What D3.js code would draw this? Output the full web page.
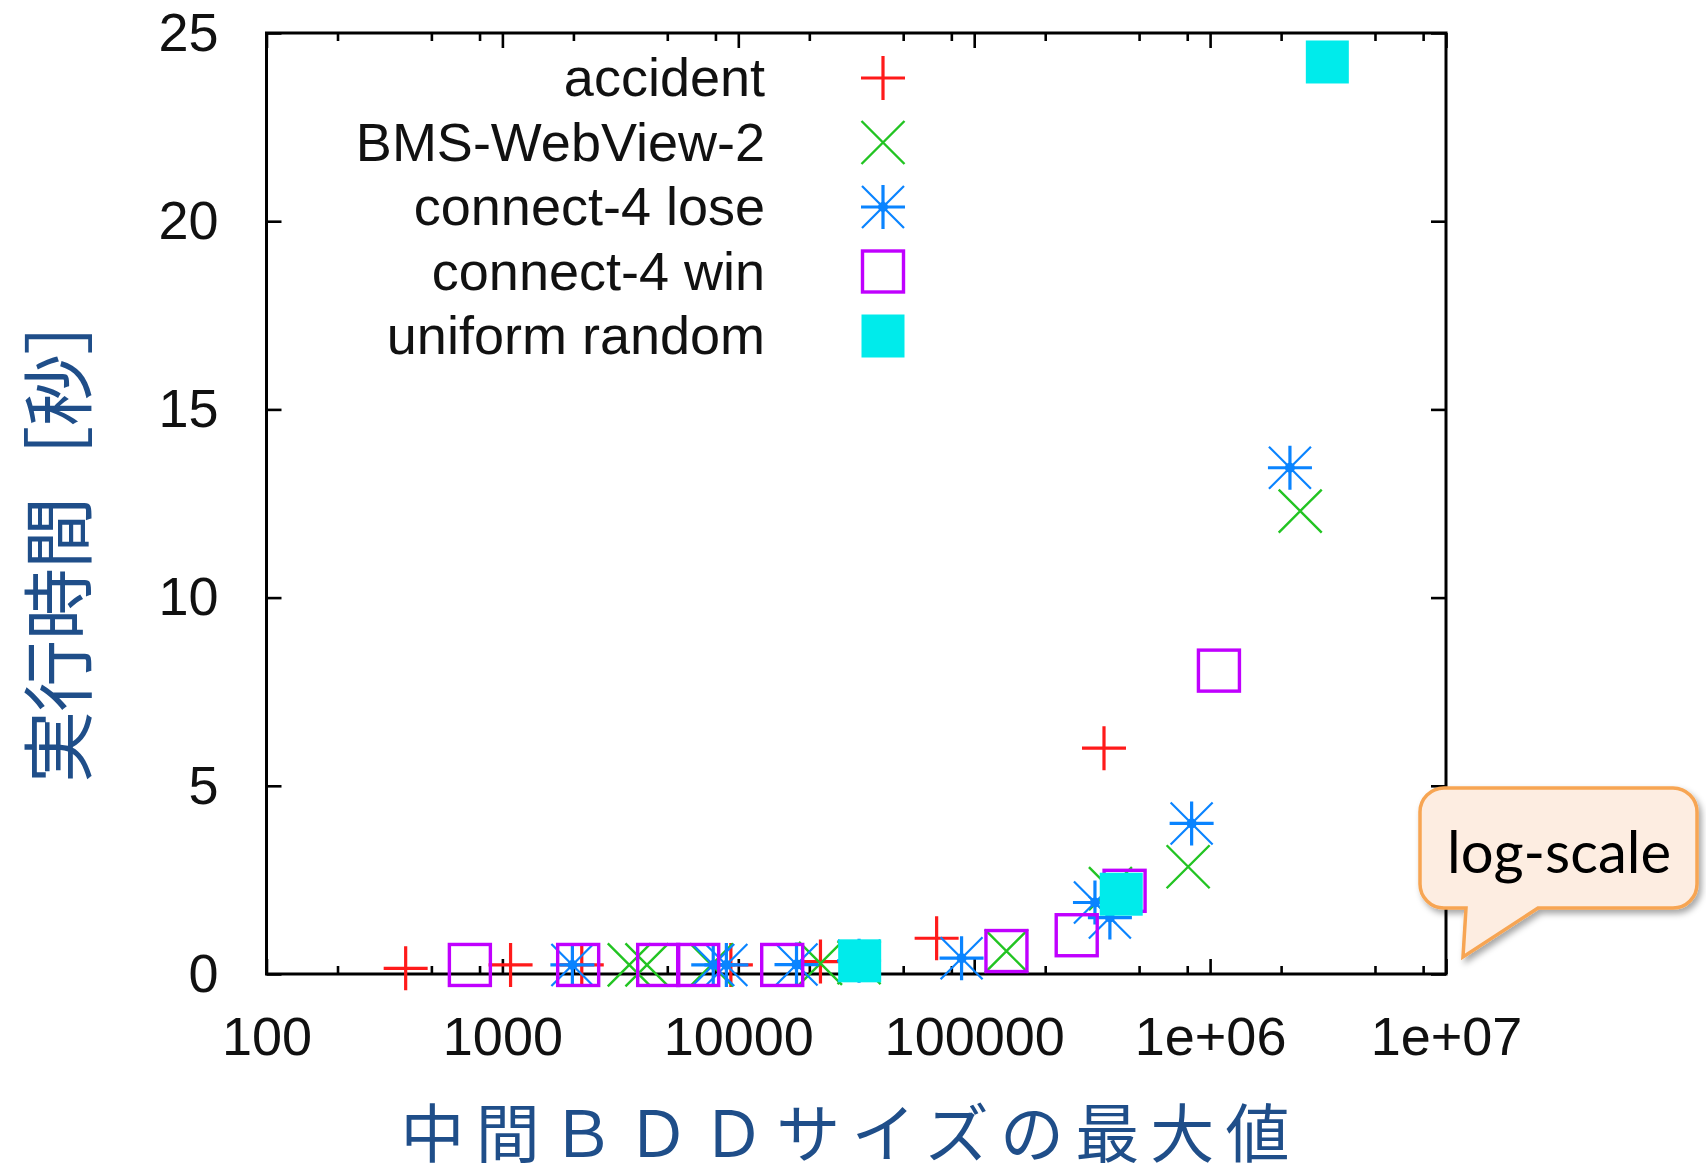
<!DOCTYPE html>
<html>
<head>
<meta charset="utf-8">
<script src="https://cdn.jsdelivr.net/npm/d3@7"></script>
<style>
  html, body { margin: 0; padding: 0; background: #fff; }
  svg { display: block; }
</style>
</head>
<body>
<svg id="chart" width="1706" height="1176"></svg>
<script>
// Runtime (seconds) versus the largest intermediate BDD size, per dataset.
const seriesNames = ["accident", "BMS-WebView-2", "connect-4 lose", "connect-4 win", "uniform random"];

const accidentSize = [389, 1083, 2170, 9300, 22300, 69300, 355000];
const accidentSec  = [0.15, 0.24, 0.24, 0.24, 0.33, 0.95, 6.0];

const bmsSize = [3450, 4100, 7700, 22300, 32500, 137000, 378000, 807000, 2410000];
const bmsSec  = [0.24, 0.24, 0.24, 0.28, 0.30, 0.61, 2.27, 2.85, 12.3];

const loseSize = [1980, 7830, 8900, 17650, 32500, 88400, 325000, 376000, 835000, 2180000];
const loseSec  = [0.24, 0.24, 0.24, 0.25, 0.35, 0.42, 1.9, 1.5, 4.0, 13.45];

const winSize = [728, 2095, 4575, 6760, 15350, 137000, 272000, 434000, 1090000];
const winSec  = [0.24, 0.24, 0.24, 0.24, 0.24, 0.61, 1.03, 2.21, 8.06];

const uniformSize = [32700, 420000, 3140000];
const uniformSec  = [0.35, 2.12, 24.23];

const xMajorTicks = [100, 1000, 10000, 100000, 1000000, 10000000];
const xTickLabels = ["100", "1000", "10000", "100000", "1e+06", "1e+07"];
const xMinorFactors = [2, 5, 8];
const yTicks = [0, 5, 10, 15, 20, 25];

const xTitle = "中間ＢＤＤサイズの最大値";
const yTitle = "実行時間［秒］";
const noteText = "log-scale";

const svg = d3.select("#chart");
const plot = { left: 266.5, right: 1446, top: 33, bottom: 974 };

const x = d3.scaleLog().domain([100, 1e7]).range([plot.left, plot.right]);
const y = d3.scaleLinear().domain([0, 25]).range([plot.bottom, plot.top]);

const tickFont = "'Liberation Sans', Arial, sans-serif";
const tickFontSize = 54;
const cjkFont = "'Noto Sans CJK JP', 'Noto Sans CJK SC', sans-serif";
const titleColor = "#1f4e89";

const xMinorTicks = [];
xMajorTicks.slice(0, -1).forEach(m => xMinorFactors.forEach(f => xMinorTicks.push(m * f)));

function styleAxis(g) {
  g.select(".domain").remove();
  g.selectAll(".tick line").attr("stroke", "#000").attr("stroke-width", 2.6);
  g.selectAll(".tick text")
    .attr("fill", "#111")
    .attr("font-family", tickFont)
    .attr("font-size", tickFontSize);
}

// bottom axis: major ticks with labels, minor ticks inward
svg.append("g")
  .attr("transform", `translate(0,${plot.bottom})`)
  .call(d3.axisBottom(x).tickValues(xMajorTicks).tickSize(-15).tickPadding(43)
    .tickFormat((d, i) => xTickLabels[i]))
  .call(styleAxis);
svg.append("g")
  .attr("transform", `translate(0,${plot.bottom})`)
  .call(d3.axisBottom(x).tickValues(xMinorTicks).tickSize(-8).tickFormat(""))
  .call(styleAxis);

// top axis mirrors the bottom ticks
svg.append("g")
  .attr("transform", `translate(0,${plot.top})`)
  .call(d3.axisTop(x).tickValues(xMajorTicks).tickSize(-15).tickFormat(""))
  .call(styleAxis);
svg.append("g")
  .attr("transform", `translate(0,${plot.top})`)
  .call(d3.axisTop(x).tickValues(xMinorTicks).tickSize(-8).tickFormat(""))
  .call(styleAxis);

// left and right axes
svg.append("g")
  .attr("transform", `translate(${plot.left},0)`)
  .call(d3.axisLeft(y).tickValues(yTicks).tickSize(-15).tickPadding(48).tickFormat(d3.format("d")))
  .call(styleAxis);
svg.append("g")
  .attr("transform", `translate(${plot.right},0)`)
  .call(d3.axisRight(y).tickValues(yTicks).tickSize(-15).tickFormat(""))
  .call(styleAxis);

// plot border
svg.append("rect")
  .attr("x", plot.left).attr("y", plot.top)
  .attr("width", plot.right - plot.left).attr("height", plot.bottom - plot.top)
  .attr("fill", "none").attr("stroke", "#000").attr("stroke-width", 3);

// point symbols
const colors = ["#ff1a1a", "#22c422", "#0a84ff", "#c000ff", "#00ebeb"];
const R = 22;

function drawSymbol(g, kind, color) {
  if (kind === 0) {
    g.append("path").attr("d", `M${-R},0H${R}M0,${-R}V${R}`)
      .attr("stroke", color).attr("stroke-width", 3.2).attr("fill", "none");
  } else if (kind === 1) {
    const r = R - 0.5;
    g.append("path").attr("d", `M${-r},${-r}L${r},${r}M${-r},${r}L${r},${-r}`)
      .attr("stroke", color).attr("stroke-width", 2.4).attr("fill", "none");
  } else if (kind === 2) {
    const r = R - 1;
    g.append("path").attr("d", `M${-r},${-r}L${r},${r}M${-r},${r}L${r},${-r}`)
      .attr("stroke", color).attr("stroke-width", 2.2).attr("fill", "none");
    g.append("path").attr("d", `M${-R},0H${R}M0,${-R}V${R}`)
      .attr("stroke", color).attr("stroke-width", 3.2).attr("fill", "none");
    g.append("circle").attr("r", 5).attr("fill", color);
  } else if (kind === 3) {
    g.append("rect").attr("x", -20.5).attr("y", -20.5).attr("width", 41).attr("height", 41)
      .attr("stroke", color).attr("stroke-width", 3.4).attr("fill", "none");
  } else {
    g.append("rect").attr("x", -21.5).attr("y", -21.5).attr("width", 43).attr("height", 43)
      .attr("fill", color);
  }
}

const seriesData = [
  [accidentSize, accidentSec],
  [bmsSize, bmsSec],
  [loseSize, loseSec],
  [winSize, winSec],
  [uniformSize, uniformSec]
];

seriesData.forEach(([sizes, secs], k) => {
  const pts = sizes.map((s, i) => ({ s, t: secs[i] }));
  svg.append("g").selectAll("g")
    .data(pts)
    .join("g")
    .attr("transform", d => `translate(${x(d.s)},${y(d.t)})`)
    .each(function () { drawSymbol(d3.select(this), k, colors[k]); });
});

// legend
const legend = svg.append("g");
const legendTextX = 765, legendKeyX = 883, legendTop = 78, legendStep = 64.5;
seriesNames.forEach((name, k) => {
  const yy = legendTop + k * legendStep;
  legend.append("text")
    .attr("x", legendTextX).attr("y", yy + 18)
    .attr("text-anchor", "end")
    .attr("font-family", tickFont).attr("font-size", tickFontSize)
    .attr("fill", "#111")
    .text(name);
  drawSymbol(legend.append("g").attr("transform", `translate(${legendKeyX},${yy})`), k, colors[k]);
});

// axis titles
svg.append("text")
  .attr("transform", "translate(53,533) rotate(-90)")
  .attr("text-anchor", "middle")
  .attr("dominant-baseline", "central")
  .attr("font-family", cjkFont).attr("font-size", 72)
  .attr("textLength", 500).attr("lengthAdjust", "spacing")
  .attr("fill", titleColor)
  .text(yTitle);

svg.append("text")
  .attr("x", 845).attr("y", 1129)
  .attr("text-anchor", "middle")
  .attr("dominant-baseline", "central")
  .attr("font-family", cjkFont).attr("font-size", 64)
  .attr("textLength", 889).attr("lengthAdjust", "spacing")
  .attr("fill", titleColor)
  .text(xTitle);

// speech-bubble note
const defs = svg.append("defs");
const shadow = defs.append("filter").attr("id", "noteShadow")
  .attr("x", "-10%").attr("y", "-10%").attr("width", "130%").attr("height", "140%");
shadow.append("feDropShadow").attr("dx", 3).attr("dy", 4).attr("stdDeviation", 3)
  .attr("flood-color", "#000").attr("flood-opacity", 0.35);

const bx0 = 1420, bx1 = 1697, by0 = 788, by1 = 908, br = 24;
const bubblePath = [
  `M${bx0 + br},${by0}`,
  `H${bx1 - br}`, `A${br},${br} 0 0 1 ${bx1},${by0 + br}`,
  `V${by1 - br}`, `A${br},${br} 0 0 1 ${bx1 - br},${by1}`,
  `H1538`, `L1463,957`, `L1466,${by1}`,
  `H${bx0 + br}`, `A${br},${br} 0 0 1 ${bx0},${by1 - br}`,
  `V${by0 + br}`, `A${br},${br} 0 0 1 ${bx0 + br},${by0}`, "Z"
].join("");
svg.append("path")
  .attr("d", bubblePath)
  .attr("fill", "#fdede1")
  .attr("stroke", "#f7a552")
  .attr("stroke-width", 3.5)
  .attr("filter", "url(#noteShadow)");
svg.append("text")
  .attr("x", 1559).attr("y", 873)
  .attr("text-anchor", "middle")
  .attr("font-family", "Lato, 'Open Sans', sans-serif").attr("font-size", 58)
  .attr("fill", "#000")
  .text(noteText);
</script>
</body>
</html>
